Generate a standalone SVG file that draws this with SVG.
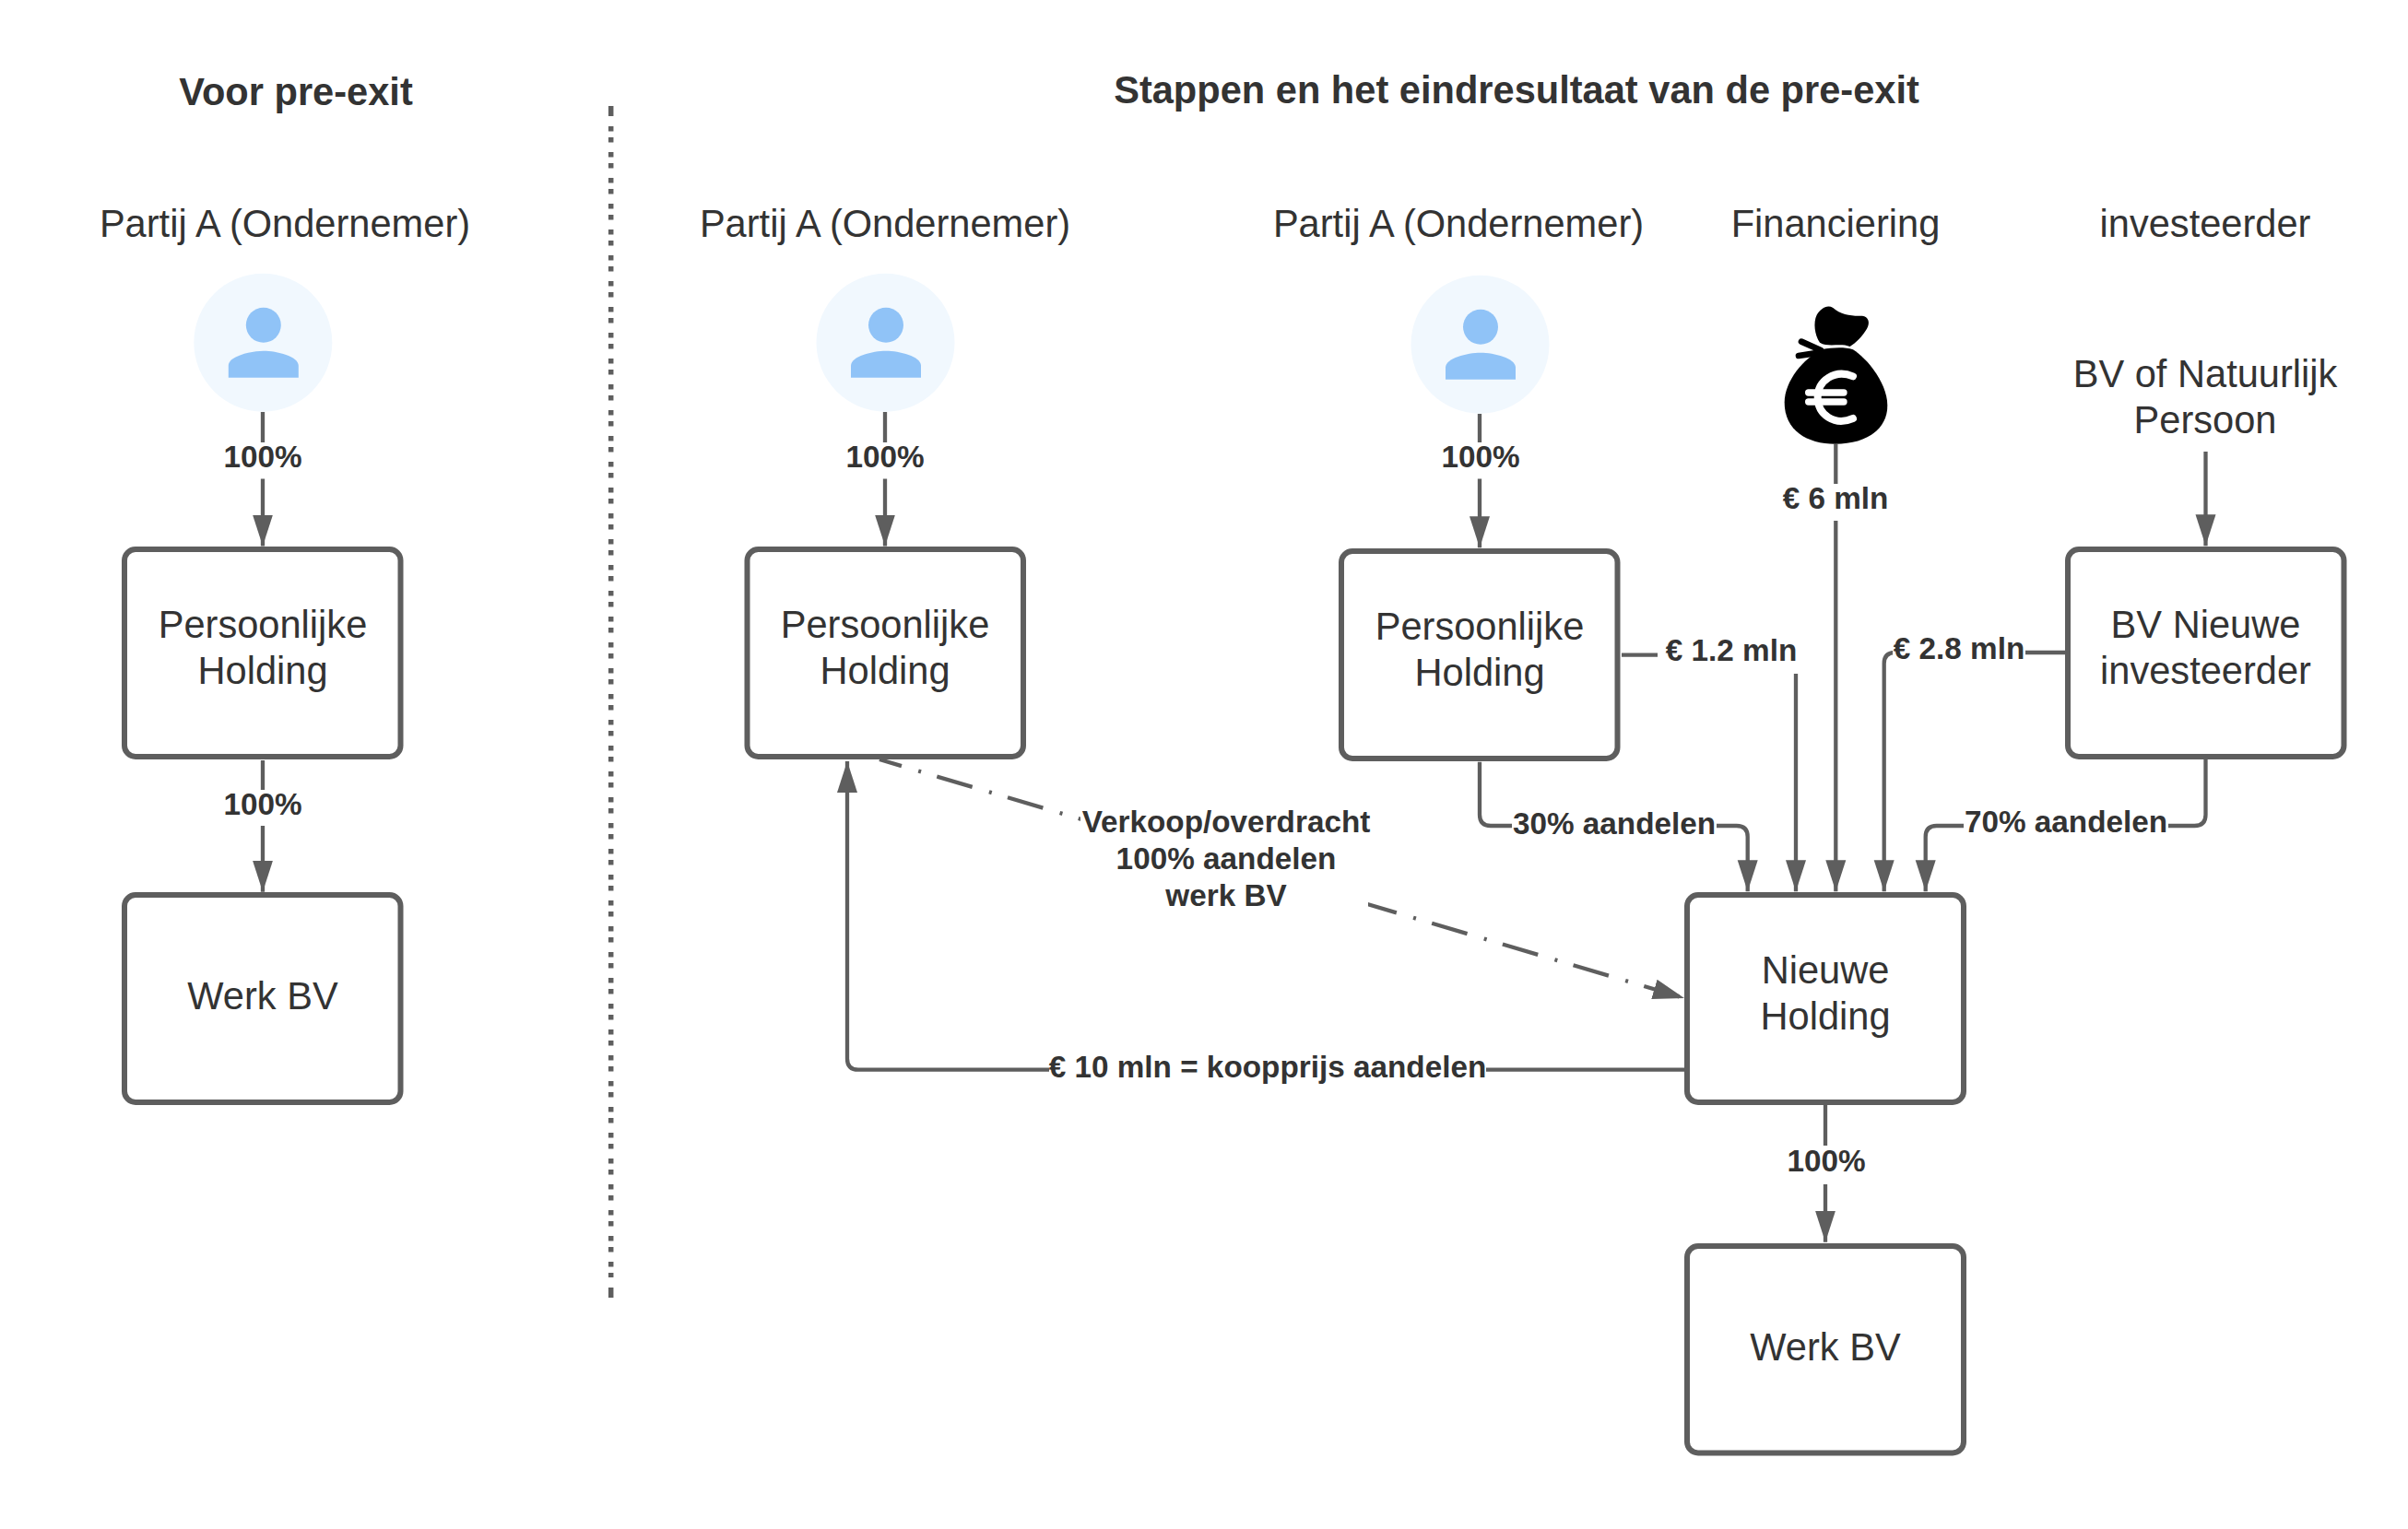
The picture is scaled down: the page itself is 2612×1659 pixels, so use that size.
<svg xmlns="http://www.w3.org/2000/svg" width="2612" height="1659" viewBox="0 0 2612 1659">
<style>
text{font-family:"Liberation Sans",Arial,sans-serif;fill:#333;text-anchor:middle}
.t{font-size:41.6px}
.h{font-size:41.600px;font-weight:700}
.l{font-size:33.300px;font-weight:700}
.box{fill:#fff;stroke:#5e5e5e;stroke-width:6}
.c{fill:none;stroke:#5e5e5e;stroke-width:4.300}
.mask{fill:#fff}
</style>
<defs>
<marker id="arrow" markerUnits="userSpaceOnUse" markerWidth="36" markerHeight="24" refX="34" refY="11.500" orient="auto"><path d="M0 0.500L34 11.500L0 22.500Z" fill="#5e5e5e"/></marker>
<g id="person"><circle r="75" fill="#f1f8fe"/><circle cx="0.500" cy="-19" r="19" fill="#90c3f7"/><path d="M-37.500 38V25C-37.500 15-14 9 0.500 9S38.500 15 38.500 25V38Z" fill="#90c3f7"/></g>
</defs>
<rect width="2612" height="1659" fill="#fff"/>
<g id="titles">
<text class="h" x="321" y="114">Voor pre-exit</text>
<text class="h" x="1645" y="112">Stappen en het eindresultaat van de pre-exit</text>
</g>
<g id="divider" fill="none" stroke="#5e5e5e" stroke-width="5.500"><path d="M662.700 115V126"/><path d="M662.700 137V1386" stroke-dasharray="5.500 6.500 5.500 10.500"/><path d="M662.700 1397V1408"/></g>
<g id="connectors">
<path class="c" d="M285 447V592.500" marker-end="url(#arrow)"/>
<path class="c" d="M285 825V967.700" marker-end="url(#arrow)"/>
<path class="c" d="M960 447V592.500" marker-end="url(#arrow)"/>
<path class="c" d="M1605 449V594.300" marker-end="url(#arrow)"/>
<path class="c" d="M2392.500 490V592.300" marker-end="url(#arrow)"/>
<path class="c" d="M1991.300 482V967.300" marker-end="url(#arrow)"/>
<path class="c" d="M1759 710.700H1936Q1948 710.700 1948 722.700V967.300" marker-end="url(#arrow)"/>
<path class="c" d="M2240 708H2055.700Q2043.700 708 2043.700 720V967.300" marker-end="url(#arrow)"/>
<path class="c" d="M1605 826.700V884Q1605 896 1617 896H1883.700Q1895.700 896 1895.700 908V967.300" marker-end="url(#arrow)"/>
<path class="c" d="M2392.500 824V884Q2392.500 896 2380.500 896H2100.700Q2088.700 896 2088.700 908V967.300" marker-end="url(#arrow)"/>
<path class="c" d="M1827 1160.700H931Q919 1160.700 919 1148.700V826" marker-end="url(#arrow)"/>
<path class="c" d="M954 824L1827 1083" stroke-dasharray="40 19 3 18" stroke-dashoffset="15" marker-end="url(#arrow)"/>
<path class="c" d="M1980 1199V1347.700" marker-end="url(#arrow)"/>
</g>
<g id="connector-labels">
<rect class="mask" x="240" y="480" width="90" height="39.500"/><text class="l" x="285" y="507">100%</text>
<rect class="mask" x="240" y="857" width="90" height="39"/><text class="l" x="285" y="883.500">100%</text>
<rect class="mask" x="915" y="480" width="90" height="39.500"/><text class="l" x="960" y="507">100%</text>
<rect class="mask" x="1561" y="480" width="90" height="39.500"/><text class="l" x="1606" y="507">100%</text>
<rect class="mask" x="1936" y="1243" width="90" height="42"/><text class="l" x="1981" y="1270.500">100%</text>
<rect class="mask" x="1930" y="525" width="124" height="40"/><text class="l" x="1991" y="552">€ 6 mln</text>
<rect class="mask" x="1798" y="688" width="154" height="43"/><text class="l" x="1878" y="717">€ 1.2 mln</text>
<rect class="mask" x="2053" y="688" width="144" height="40"/><text class="l" x="2125" y="715">€ 2.8 mln</text>
<rect class="mask" x="1640" y="875" width="222" height="40"/><text class="l" x="1751" y="905">30% aandelen</text>
<rect class="mask" x="2130" y="875" width="222" height="40"/><text class="l" x="2241" y="903">70% aandelen</text>
<rect class="mask" x="1172" y="870" width="312" height="122"/>
<text class="l" x="1330" y="903">Verkoop/overdracht</text>
<text class="l" x="1330" y="943">100% aandelen</text>
<text class="l" x="1330" y="983">werk BV</text>
<rect class="mask" x="1138" y="1140" width="474" height="40"/><text class="l" x="1375" y="1169">€ 10 mln = koopprijs aandelen</text>
</g>
<g id="left-party"><text class="t" x="309" y="257">Partij A (Ondernemer)</text><use href="#person" x="285.300" y="371.700"/></g>
<g id="middle-party"><text class="t" x="960" y="257">Partij A (Ondernemer)</text><use href="#person" x="960.500" y="371.700"/></g>
<g id="right-party"><text class="t" x="1582" y="257">Partij A (Ondernemer)</text><use href="#person" x="1605.500" y="373.700"/></g>
<g id="financing"><text class="t" x="1991" y="257">Financiering</text>
<g transform="translate(1850 300) scale(.33333)">
<path d="M380 237C320 265 257 340 257 410C257 500 330 545 422 545C520 545 592 500 592 420C592 350 530 270 480 238C450 228 410 232 380 237Z"/>
<path d="M372 215C355 190 350 150 362 125C375 105 395 90 415 102C440 125 480 130 510 128C530 130 537 150 525 170C510 195 490 215 470 228C440 215 400 232 372 215Z"/>
<path d="M375 240L312 212M355 250L303 258" fill="none" stroke="#000" stroke-width="20" stroke-linecap="round"/>
<path d="M480 325C420 300 365 340 365 393C365 450 420 488 480 462" fill="none" stroke="#fff" stroke-width="24" stroke-linecap="round"/>
<path d="M335 378H450M335 408H450" fill="none" stroke="#fff" stroke-width="22" stroke-linecap="round"/>
</g></g>
<g id="investor"><text class="t" x="2392" y="257">investeerder</text><text class="t" x="2392" y="420">BV of Natuurlijk</text><text class="t" x="2392" y="470">Persoon</text></g>
<g id="left-holding"><rect class="box" x="135" y="596" width="299.500" height="225" rx="12"/><text class="t" x="285" y="692">Persoonlijke</text><text class="t" x="285" y="742">Holding</text></g>
<g id="left-werk"><rect class="box" x="135" y="971" width="299.500" height="225" rx="12"/><text class="t" x="285" y="1095">Werk BV</text></g>
<g id="middle-holding"><rect class="box" x="810.500" y="596" width="299.500" height="225" rx="12"/><text class="t" x="960" y="692">Persoonlijke</text><text class="t" x="960" y="742">Holding</text></g>
<g id="right-holding"><rect class="box" x="1455" y="598" width="299.500" height="225" rx="12"/><text class="t" x="1605" y="693.500">Persoonlijke</text><text class="t" x="1605" y="743.500">Holding</text></g>
<g id="investor-bv"><rect class="box" x="2243" y="596" width="299.500" height="225" rx="12"/><text class="t" x="2392.500" y="692">BV Nieuwe</text><text class="t" x="2392.500" y="742">investeerder</text></g>
<g id="new-holding"><rect class="box" x="1830" y="971" width="300" height="225" rx="12"/><text class="t" x="1980" y="1067">Nieuwe</text><text class="t" x="1980" y="1117">Holding</text></g>
<g id="right-werk"><rect class="box" x="1830" y="1352" width="300" height="224.500" rx="12"/><text class="t" x="1980" y="1476">Werk BV</text></g>
</svg>
